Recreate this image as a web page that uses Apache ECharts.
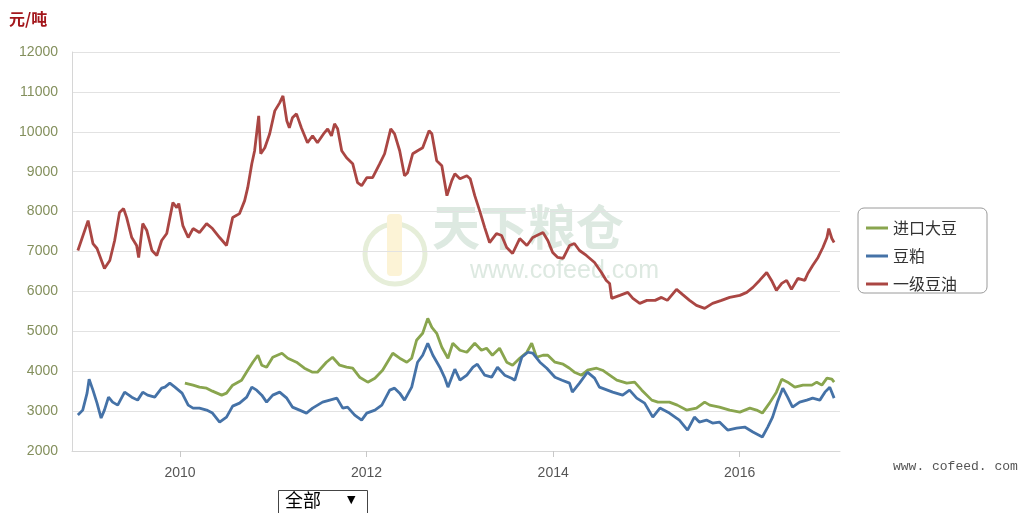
<!DOCTYPE html>
<html>
<head>
<meta charset="utf-8">
<script src="https://cdn.jsdelivr.net/npm/echarts@6/dist/echarts.min.js"></script>
<style>
html,body{margin:0;padding:0;background:#fff;}
#chart{width:1022px;height:513px;}
</style>
</head>
<body>
<div id="chart"></div>
<script>
// ---- data ----
const seriesNames = ['进口大豆', '豆粕', '一级豆油'];
const yTickValues = [2000, 3000, 4000, 5000, 6000, 7000, 8000, 9000, 10000, 11000, 12000];
const xTickDates = ['2010-01-01', '2012-01-01', '2014-01-01', '2016-01-01'];
const xTickLabels = ['2010', '2012', '2014', '2016'];
const unitLabel = '元/吨';

// 进口大豆 (imported soybean)
const soybean = [
  ['2010-01-20',3700],['2010-02-21',3650],['2010-03-18',3600],['2010-04-15',3575],['2010-05-08',3500],
  ['2010-06-13',3400],['2010-07-02',3450],['2010-07-26',3650],['2010-08-30',3775],['2010-09-23',4025],
  ['2010-10-13',4225],['2010-11-02',4400],['2010-11-17',4150],['2010-12-06',4100],['2010-12-30',4350],
  ['2011-02-04',4450],['2011-02-27',4325],['2011-04-02',4225],['2011-05-03',4075],['2011-06-04',3975],
  ['2011-06-23',3975],['2011-07-28',4225],['2011-08-21',4350],['2011-09-18',4150],['2011-10-15',4100],
  ['2011-11-08',4075],['2011-12-05',3850],['2012-01-06',3725],['2012-02-03',3825],['2012-03-04',4025],
  ['2012-04-13',4450],['2012-05-10',4325],['2012-06-07',4225],['2012-06-26',4325],['2012-07-15',4775],
  ['2012-08-08',4950],['2012-08-28',5325],['2012-09-13',5100],['2012-10-02',4950],['2012-10-22',4600],
  ['2012-11-15',4325],['2012-12-04',4700],['2013-01-01',4525],['2013-01-28',4475],['2013-02-28',4700],
  ['2013-03-26',4525],['2013-04-15',4575],['2013-05-08',4400],['2013-06-05',4575],['2013-07-03',4225],
  ['2013-07-26',4150],['2013-08-23',4325],['2013-09-20',4475],['2013-10-09',4700],['2013-10-28',4350],
  ['2013-11-22',4400],['2013-12-11',4400],['2014-01-08',4225],['2014-02-09',4175],['2014-03-06',4075],
  ['2014-03-25',3975],['2014-04-22',3900],['2014-05-15',4025],['2014-06-20',4075],['2014-07-13',4025],
  ['2014-09-07',3775],['2014-10-16',3700],['2014-11-16',3725],['2014-12-14',3525],['2015-01-22',3275],
  ['2015-02-15',3225],['2015-04-01',3225],['2015-05-02',3150],['2015-06-07',3025],['2015-07-16',3075],
  ['2015-08-17',3225],['2015-09-06',3150],['2015-10-14',3100],['2015-11-23',3025],['2016-01-02',2975],
  ['2016-02-10',3075],['2016-03-07',3025],['2016-03-30',2950],['2016-04-27',3200],['2016-05-24',3475],
  ['2016-06-14',3800],['2016-07-07',3725],['2016-08-04',3600],['2016-09-05',3650],['2016-10-10',3650],
  ['2016-10-29',3725],['2016-11-18',3650],['2016-12-08',3825],['2016-12-27',3800],['2017-01-05',3725]
];

// 豆粕 (soybean meal)
const soyMeal = [
  ['2008-11-27',2900],['2008-12-16',3025],['2009-01-02',3450],['2009-01-10',3800],['2009-01-25',3525],
  ['2009-02-10',3200],['2009-02-26',2825],['2009-03-11',3025],['2009-03-27',3350],['2009-04-12',3225],
  ['2009-05-02',3150],['2009-05-29',3475],['2009-06-26',3350],['2009-07-19',3275],['2009-08-08',3475],
  ['2009-08-27',3400],['2009-09-24',3350],['2009-10-21',3575],['2009-11-03',3600],['2009-11-22',3700],
  ['2009-12-12',3600],['2010-01-09',3450],['2010-02-02',3150],['2010-02-21',3075],['2010-03-18',3075],
  ['2010-04-15',3025],['2010-05-08',2950],['2010-06-05',2725],['2010-07-02',2850],['2010-07-26',3125],
  ['2010-08-22',3200],['2010-09-19',3350],['2010-10-09',3600],['2010-10-28',3525],['2010-11-17',3400],
  ['2010-12-06',3225],['2010-12-30',3400],['2011-01-26',3475],['2011-02-23',3325],['2011-03-17',3100],
  ['2011-04-14',3025],['2011-05-11',2950],['2011-06-04',3075],['2011-07-13',3225],['2011-08-10',3275],
  ['2011-09-07',3325],['2011-09-30',3075],['2011-10-19',3100],['2011-11-16',2900],['2011-12-13',2775],
  ['2012-01-02',2950],['2012-02-03',3025],['2012-03-01',3150],['2012-04-01',3525],['2012-04-20',3575],
  ['2012-05-10',3450],['2012-05-29',3275],['2012-06-26',3600],['2012-07-19',4225],['2012-08-08',4400],
  ['2012-08-28',4700],['2012-09-17',4400],['2012-10-14',4100],['2012-11-03',3825],['2012-11-15',3600],
  ['2012-12-12',4050],['2013-01-01',3775],['2013-01-28',3900],['2013-02-21',4100],['2013-03-10',4175],
  ['2013-04-08',3900],['2013-05-05',3850],['2013-05-28',4100],['2013-06-25',3900],['2013-07-22',3825],
  ['2013-08-04',3775],['2013-08-31',4350],['2013-09-24',4475],['2013-10-13',4450],['2013-11-10',4225],
  ['2013-12-07',4075],['2014-01-08',3850],['2014-02-05',3775],['2014-03-06',3700],['2014-03-17',3475],
  ['2014-04-14',3700],['2014-05-15',3975],['2014-06-12',3825],['2014-07-01',3600],['2014-08-22',3475],
  ['2014-09-30',3400],['2014-10-27',3525],['2014-11-24',3325],['2014-12-25',3200],['2015-01-26',2850],
  ['2015-02-23',3075],['2015-04-01',2950],['2015-05-10',2775],['2015-06-11',2525],['2015-07-08',2850],
  ['2015-07-27',2725],['2015-08-24',2775],['2015-09-17',2700],['2015-10-14',2725],['2015-11-15',2525],
  ['2015-12-20',2575],['2016-01-21',2600],['2016-02-22',2475],['2016-03-30',2350],['2016-04-20',2600],
  ['2016-05-09',2850],['2016-05-28',3225],['2016-06-18',3575],['2016-07-07',3350],['2016-07-26',3100],
  ['2016-08-23',3225],['2016-09-20',3275],['2016-10-13',3325],['2016-11-10',3275],['2016-11-30',3475],
  ['2016-12-19',3600],['2017-01-05',3325]
];

// 一级豆油 (grade-1 soybean oil)
const soyOil = [
  ['2008-11-27',7025],['2009-01-06',7775],['2009-01-25',7200],['2009-02-10',7075],['2009-03-11',6575],
  ['2009-04-01',6775],['2009-04-20',7275],['2009-05-09',7975],['2009-05-25',8075],['2009-06-06',7850],
  ['2009-06-26',7350],['2009-07-15',7150],['2009-07-23',6850],['2009-08-08',7700],['2009-08-24',7525],
  ['2009-09-13',7025],['2009-10-02',6900],['2009-10-21',7275],['2009-11-10',7450],['2009-12-04',8225],
  ['2009-12-19',8100],['2009-12-27',8200],['2010-01-12',7650],['2010-02-02',7350],['2010-02-21',7575],
  ['2010-03-18',7475],['2010-04-15',7700],['2010-05-08',7575],['2010-06-05',7350],['2010-07-02',7150],
  ['2010-07-26',7850],['2010-08-22',7950],['2010-09-11',8275],['2010-09-23',8600],['2010-10-09',9200],
  ['2010-10-20',9525],['2010-11-05',10400],['2010-11-13',9450],['2010-11-29',9600],['2010-12-18',9950],
  ['2011-01-07',10525],['2011-01-26',10725],['2011-02-08',10900],['2011-02-23',10275],['2011-03-05',10100],
  ['2011-03-17',10350],['2011-04-02',10450],['2011-04-21',10100],['2011-05-15',9725],['2011-06-04',9900],
  ['2011-06-23',9725],['2011-07-20',9975],['2011-08-02',10075],['2011-08-17',9900],['2011-08-29',10200],
  ['2011-09-10',10075],['2011-09-26',9525],['2011-10-15',9350],['2011-11-08',9200],['2011-11-27',8725],
  ['2011-12-13',8650],['2012-01-02',8850],['2012-01-25',8850],['2012-02-22',9200],['2012-03-12',9450],
  ['2012-04-05',10075],['2012-04-20',9950],['2012-05-10',9525],['2012-05-29',8900],['2012-06-10',8975],
  ['2012-06-30',9450],['2012-07-19',9525],['2012-08-08',9600],['2012-09-02',10025],['2012-09-13',9950],
  ['2012-10-02',9275],['2012-10-22',9150],['2012-11-11',8400],['2012-11-30',8775],['2012-12-12',8950],
  ['2013-01-01',8825],['2013-01-28',8900],['2013-02-10',8825],['2013-02-28',8400],['2013-03-19',8025],
  ['2013-04-08',7600],['2013-04-27',7225],['2013-05-24',7450],['2013-06-13',7400],['2013-07-03',7100],
  ['2013-07-26',6950],['2013-08-23',7325],['2013-09-20',7150],['2013-10-13',7350],['2013-11-22',7475],
  ['2013-12-11',7275],['2013-12-30',6975],['2014-01-19',6850],['2014-02-09',6825],['2014-03-06',7150],
  ['2014-03-25',7200],['2014-04-14',7025],['2014-05-11',6900],['2014-06-12',6725],['2014-07-09',6475],
  ['2014-07-28',6275],['2014-08-10',6200],['2014-08-18',5825],['2014-09-19',5900],['2014-10-20',5975],
  ['2014-11-09',5825],['2014-12-06',5700],['2015-01-03',5775],['2015-02-04',5775],['2015-03-01',5850],
  ['2015-03-24',5775],['2015-04-29',6050],['2015-05-22',5925],['2015-06-19',5775],['2015-07-16',5650],
  ['2015-08-17',5575],['2015-09-17',5700],['2015-10-22',5775],['2015-11-23',5850],['2016-01-02',5900],
  ['2016-01-29',5975],['2016-02-22',6100],['2016-03-19',6275],['2016-04-16',6475],['2016-05-05',6275],
  ['2016-05-24',6025],['2016-06-14',6200],['2016-07-03',6275],['2016-07-22',6050],['2016-08-16',6325],
  ['2016-09-12',6275],['2016-09-24',6450],['2016-10-13',6650],['2016-11-03',6850],['2016-11-22',7100],
  ['2016-12-08',7350],['2016-12-15',7575],['2016-12-27',7325],['2017-01-05',7225]
];

const seriesColors = ['#89A54E', '#4572A7', '#AA4643'];
const seriesData = [soybean, soyMeal, soyOil];

// ---- chart ----
const chart = echarts.init(document.getElementById('chart'), null, {renderer: 'canvas'});
const toTs = d => new Date(d + 'T00:00:00Z').getTime();
const cjk = '"Noto Sans CJK SC", "Noto Sans", sans-serif';
const xTickTs = xTickDates.map(toTs);

const option = {
  backgroundColor: '#ffffff',
  animation: false,
  grid: {left: 72, right: 182, top: 52, bottom: 62, containLabel: false},
  legend: {
    orient: 'vertical',
    left: 858, top: 208,
    width: 130,
    padding: [12, 30, 1, 8],
    itemGap: 12,
    itemWidth: 22, itemHeight: 3,
    icon: 'rect',
    borderColor: '#9a9a9a', borderWidth: 1, borderRadius: 6,
    textStyle: {fontFamily: cjk, fontSize: 16, color: '#333'},
    data: seriesNames
  },
  xAxis: {
    type: 'value',
    min: toTs('2008-11-04'),
    max: toTs('2017-01-28'),
    axisLine: {show: true, onZero: false, lineStyle: {color: '#d6d6d6', width: 1}},
    axisTick: {show: true, length: 6, lineStyle: {color: '#c8c8c8'}, customValues: xTickTs},
    axisLabel: {
      show: true, margin: 15, color: '#555', fontSize: 14, fontFamily: 'Liberation Sans, Arial, sans-serif',
      customValues: xTickTs,
      formatter: v => { const i = xTickTs.indexOf(v); return i >= 0 ? xTickLabels[i] : ''; }
    },
    splitLine: {show: false}
  },
  yAxis: {
    type: 'value',
    min: yTickValues[0], max: yTickValues[yTickValues.length - 1], interval: 1000,
    axisLine: {show: true, lineStyle: {color: '#d6d6d6'}},
    axisTick: {show: false},
    axisLabel: {margin: 14, color: '#838f5c', fontSize: 14, fontFamily: 'Liberation Sans, Arial, sans-serif',
      formatter: v => String(v)},
    splitLine: {show: true, lineStyle: {color: '#e2e2e2', width: 1}}
  },
  graphic: [
    {type: 'text', left: 9, top: 11, z: 10,
      style: {text: unitLabel, fill: '#a3161b', font: 'bold 16px ' + cjk}},
    {type: 'circle', z: -1, silent: true, shape: {cx: 395, cy: 254, r: 30},
      style: {fill: 'none', stroke: '#e6eed9', lineWidth: 5}},
    {type: 'rect', z: -1, silent: true, shape: {x: 387, y: 214, width: 15, height: 62, r: 4},
      style: {fill: '#fcf3d6'}},
    {type: 'text', z: -1, silent: true, left: 432, top: 203,
      style: {text: '天下粮仓', fill: '#dde9e1', font: 'bold 48px ' + cjk}},
    {type: 'text', z: -1, silent: true, left: 470, top: 259,
      style: {text: 'www.cofeed.com', fill: '#dde9e1', font: '25px "Liberation Sans", Arial, sans-serif'}},
    {type: 'text', left: 893, top: 460,
      style: {text: 'www. cofeed. com', fill: '#555', font: '13px "Liberation Mono", "DejaVu Sans Mono", monospace'}},
    {type: 'rect', shape: {x: 278.5, y: 490.5, width: 89, height: 30},
      style: {fill: '#fff', stroke: '#444', lineWidth: 1}},
    {type: 'text', left: 285, top: 491,
      style: {text: '全部', fill: '#000', font: '18px ' + cjk}},
    {type: 'text', left: 347, top: 495,
      style: {text: '▼', fill: '#000', font: '11px "DejaVu Sans", sans-serif'}}
  ],
  series: seriesNames.map((name, i) => ({
    name: name,
    type: 'line',
    showSymbol: false,
    symbol: 'none',
    color: seriesColors[i],
    lineStyle: {width: 2.8, color: seriesColors[i]},
    z: 3,
    data: seriesData[i].map(p => [toTs(p[0]), p[1]])
  }))
};
chart.setOption(option);
</script>
</body>
</html>
